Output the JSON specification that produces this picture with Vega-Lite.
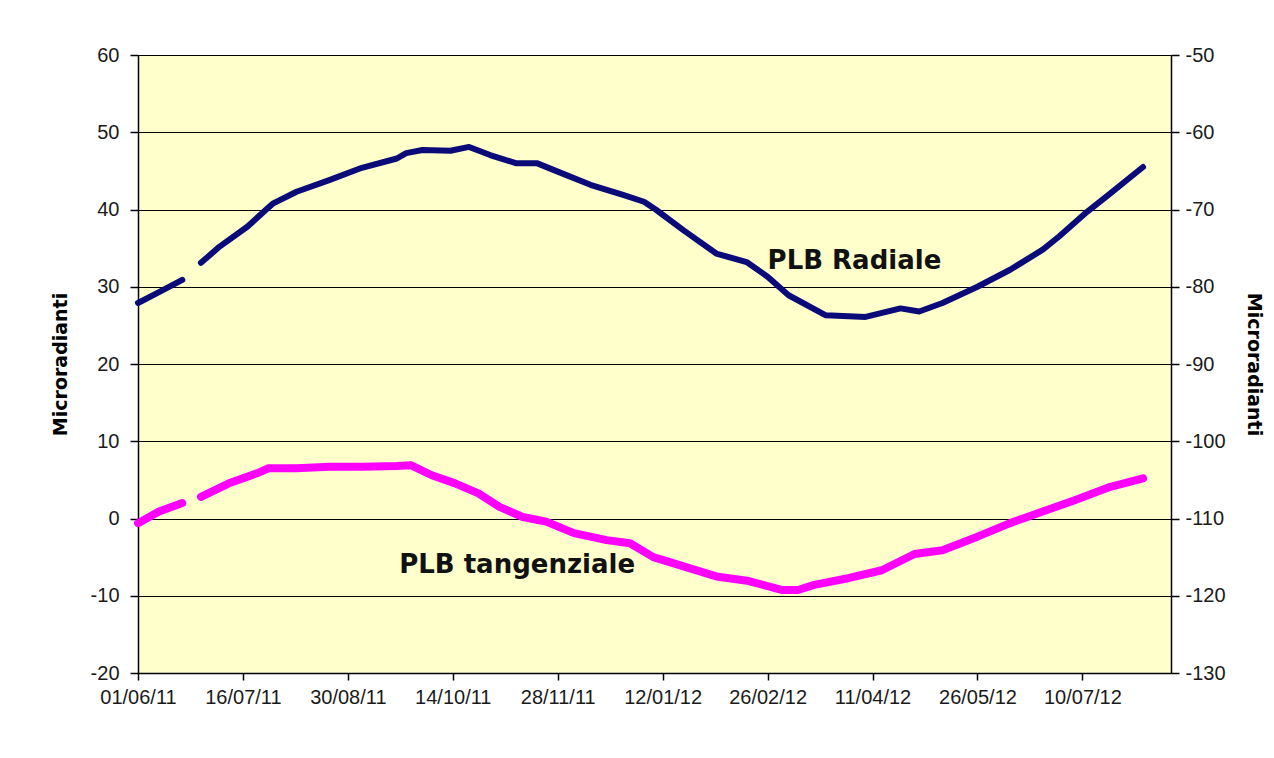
{
  "$schema": "https://vega.github.io/schema/vega-lite/v6.json",
  "width": 1033,
  "height": 618,
  "autosize": "none",
  "padding": {"left": 138, "top": 55, "right": 103, "bottom": 85},
  "background": "white",
  "config": {"view": {"fill": "#FFFFCC", "stroke": null}, "font": "Liberation Sans"},
  "datasets": {
    "radiale": [
      {"d": "2011-06-01", "v": 27.9, "seg": "R1"},
      {"d": "2011-06-10", "v": 29.3, "seg": "R1"},
      {"d": "2011-06-20", "v": 30.9, "seg": "R1"},
      {"d": "2011-06-28", "v": 33.1, "seg": "R2"},
      {"d": "2011-07-06", "v": 35.2, "seg": "R2"},
      {"d": "2011-07-18", "v": 37.8, "seg": "R2"},
      {"d": "2011-07-26", "v": 40.0, "seg": "R2"},
      {"d": "2011-07-29", "v": 40.8, "seg": "R2"},
      {"d": "2011-08-08", "v": 42.3, "seg": "R2"},
      {"d": "2011-08-22", "v": 43.8, "seg": "R2"},
      {"d": "2011-09-05", "v": 45.4, "seg": "R2"},
      {"d": "2011-09-20", "v": 46.6, "seg": "R2"},
      {"d": "2011-09-24", "v": 47.3, "seg": "R2"},
      {"d": "2011-10-01", "v": 47.7, "seg": "R2"},
      {"d": "2011-10-13", "v": 47.6, "seg": "R2"},
      {"d": "2011-10-21", "v": 48.1, "seg": "R2"},
      {"d": "2011-10-30", "v": 47.05, "seg": "R2"},
      {"d": "2011-11-10", "v": 46.0, "seg": "R2"},
      {"d": "2011-11-19", "v": 46.0, "seg": "R2"},
      {"d": "2011-11-28", "v": 44.9, "seg": "R2"},
      {"d": "2011-12-12", "v": 43.2, "seg": "R2"},
      {"d": "2011-12-26", "v": 41.9, "seg": "R2"},
      {"d": "2012-01-04", "v": 41.0, "seg": "R2"},
      {"d": "2012-01-09", "v": 40.0, "seg": "R2"},
      {"d": "2012-01-21", "v": 37.3, "seg": "R2"},
      {"d": "2012-02-04", "v": 34.3, "seg": "R2"},
      {"d": "2012-02-17", "v": 33.2, "seg": "R2"},
      {"d": "2012-02-26", "v": 31.3, "seg": "R2"},
      {"d": "2012-03-06", "v": 28.9, "seg": "R2"},
      {"d": "2012-03-22", "v": 26.3, "seg": "R2"},
      {"d": "2012-04-08", "v": 26.1, "seg": "R2"},
      {"d": "2012-04-23", "v": 27.2, "seg": "R2"},
      {"d": "2012-05-01", "v": 26.8, "seg": "R2"},
      {"d": "2012-05-11", "v": 27.9, "seg": "R2"},
      {"d": "2012-05-26", "v": 30.0, "seg": "R2"},
      {"d": "2012-06-09", "v": 32.2, "seg": "R2"},
      {"d": "2012-06-23", "v": 34.8, "seg": "R2"},
      {"d": "2012-06-30", "v": 36.5, "seg": "R2"},
      {"d": "2012-07-12", "v": 39.7, "seg": "R2"},
      {"d": "2012-07-22", "v": 42.1, "seg": "R2"},
      {"d": "2012-08-05", "v": 45.5, "seg": "R2"}
    ],
    "tangenziale": [
      {"d": "2011-06-01", "v": -0.6, "seg": "T1"},
      {"d": "2011-06-10", "v": 0.9, "seg": "T1"},
      {"d": "2011-06-20", "v": 2.0, "seg": "T1"},
      {"d": "2011-06-28", "v": 2.8, "seg": "T2"},
      {"d": "2011-07-10", "v": 4.55, "seg": "T2"},
      {"d": "2011-07-22", "v": 5.85, "seg": "T2"},
      {"d": "2011-07-27", "v": 6.5, "seg": "T2"},
      {"d": "2011-08-08", "v": 6.5, "seg": "T2"},
      {"d": "2011-08-22", "v": 6.7, "seg": "T2"},
      {"d": "2011-09-05", "v": 6.7, "seg": "T2"},
      {"d": "2011-09-20", "v": 6.8, "seg": "T2"},
      {"d": "2011-09-26", "v": 6.9, "seg": "T2"},
      {"d": "2011-10-05", "v": 5.6, "seg": "T2"},
      {"d": "2011-10-15", "v": 4.55, "seg": "T2"},
      {"d": "2011-10-25", "v": 3.25, "seg": "T2"},
      {"d": "2011-11-03", "v": 1.5, "seg": "T2"},
      {"d": "2011-11-13", "v": 0.2, "seg": "T2"},
      {"d": "2011-11-23", "v": -0.4, "seg": "T2"},
      {"d": "2011-12-05", "v": -1.9, "seg": "T2"},
      {"d": "2011-12-19", "v": -2.8, "seg": "T2"},
      {"d": "2011-12-29", "v": -3.2, "seg": "T2"},
      {"d": "2012-01-08", "v": -5.0, "seg": "T2"},
      {"d": "2012-01-21", "v": -6.2, "seg": "T2"},
      {"d": "2012-02-04", "v": -7.5, "seg": "T2"},
      {"d": "2012-02-18", "v": -8.1, "seg": "T2"},
      {"d": "2012-03-03", "v": -9.25, "seg": "T2"},
      {"d": "2012-03-10", "v": -9.25, "seg": "T2"},
      {"d": "2012-03-17", "v": -8.6, "seg": "T2"},
      {"d": "2012-04-01", "v": -7.7, "seg": "T2"},
      {"d": "2012-04-15", "v": -6.7, "seg": "T2"},
      {"d": "2012-04-29", "v": -4.6, "seg": "T2"},
      {"d": "2012-05-11", "v": -4.1, "seg": "T2"},
      {"d": "2012-05-26", "v": -2.35, "seg": "T2"},
      {"d": "2012-06-09", "v": -0.6, "seg": "T2"},
      {"d": "2012-06-23", "v": 0.9, "seg": "T2"},
      {"d": "2012-07-07", "v": 2.4, "seg": "T2"},
      {"d": "2012-07-22", "v": 4.1, "seg": "T2"},
      {"d": "2012-08-05", "v": 5.2, "seg": "T2"}
    ],
    "labels": [
      {"d": "2012-02-26", "v": 33.3, "t": "PLB Radiale"},
      {"d": "2011-09-21", "v": -6.0, "t": "PLB tangenziale"}
    ],
    "right": [{"r": -130}, {"r": -50}]
  },
  "layer": [
    {
      "layer": [
        {
          "data": {"name": "radiale"},
          "mark": {"type": "line", "color": "#0a0a78", "strokeWidth": 6, "strokeJoin": "round", "strokeCap": "round"},
          "encoding": {
            "x": {
              "field": "d", "type": "temporal",
              "scale": {"type": "utc", "domain": [{"year": 2011, "month": 6, "date": 1, "utc": true}, {"year": 2012, "month": 8, "date": 17, "utc": true}]},
              "axis": {
                "values": [
                  {"year": 2011, "month": 6, "date": 1, "utc": true},
                  {"year": 2011, "month": 7, "date": 16, "utc": true},
                  {"year": 2011, "month": 8, "date": 30, "utc": true},
                  {"year": 2011, "month": 10, "date": 14, "utc": true},
                  {"year": 2011, "month": 11, "date": 28, "utc": true},
                  {"year": 2012, "month": 1, "date": 12, "utc": true},
                  {"year": 2012, "month": 2, "date": 26, "utc": true},
                  {"year": 2012, "month": 4, "date": 11, "utc": true},
                  {"year": 2012, "month": 5, "date": 26, "utc": true},
                  {"year": 2012, "month": 7, "date": 10, "utc": true}
                ],
                "labelExpr": "utcFormat(datum.value, '%d/%m/%y')",
                "title": null, "grid": false,
                "domainColor": "black", "domainWidth": 1.5,
                "tickColor": "black", "tickSize": 7, "tickWidth": 1.5,
                "labelFontSize": 20, "labelColor": "#1a1a1a", "labelPadding": 7,
                "labelFlush": false, "labelOverlap": false
              }
            },
            "y": {
              "field": "v", "type": "quantitative",
              "scale": {"domain": [-20, 60], "nice": false, "zero": false},
              "axis": {
                "values": [-20, -10, 0, 10, 20, 30, 40, 50, 60],
                "labelExpr": "'' + datum.value",
                "grid": true, "gridColor": "black", "gridWidth": 1.2,
                "domainColor": "black", "domainWidth": 1.5,
                "tickColor": "black", "tickSize": 8, "tickWidth": 1.5,
                "labelFontSize": 20, "labelColor": "#1a1a1a", "labelPadding": 11,
                "title": "Microradianti", "titleFont": "DejaVu Sans", "titleFontSize": 19, "titleFontWeight": "bold",
                "titleColor": "black", "titlePadding": 20
              }
            },
            "detail": {"field": "seg"}
          }
        },
        {
          "data": {"name": "tangenziale"},
          "mark": {"type": "line", "color": "#FF00FF", "strokeWidth": 8, "strokeJoin": "round", "strokeCap": "round"},
          "encoding": {
            "x": {"field": "d", "type": "temporal"},
            "y": {"field": "v", "type": "quantitative"},
            "detail": {"field": "seg"}
          }
        },
        {
          "data": {"name": "labels"},
          "mark": {"type": "text", "align": "left", "baseline": "middle", "font": "DejaVu Sans", "fontWeight": "bold", "fontSize": 26, "color": "#111111"},
          "encoding": {
            "x": {"field": "d", "type": "temporal"},
            "y": {"field": "v", "type": "quantitative"},
            "text": {"field": "t"}
          }
        }
      ]
    },
    {
      "data": {"name": "right"},
      "mark": {"type": "point", "opacity": 0},
      "encoding": {
        "y": {
          "field": "r", "type": "quantitative",
          "scale": {"domain": [-130, -50], "nice": false, "zero": false},
          "axis": {
            "orient": "right",
            "values": [-130, -120, -110, -100, -90, -80, -70, -60, -50],
            "labelExpr": "'' + datum.value",
            "grid": false,
            "domainColor": "black", "domainWidth": 1.5,
            "tickColor": "black", "tickSize": 8, "tickWidth": 1.5,
            "labelFontSize": 20, "labelColor": "#1a1a1a", "labelPadding": 6,
            "title": "Microradianti", "titleFont": "DejaVu Sans", "titleFontSize": 19, "titleFontWeight": "bold",
            "titleColor": "black", "titlePadding": 18
          }
        }
      }
    }
  ],
  "resolve": {"scale": {"y": "independent"}}
}
